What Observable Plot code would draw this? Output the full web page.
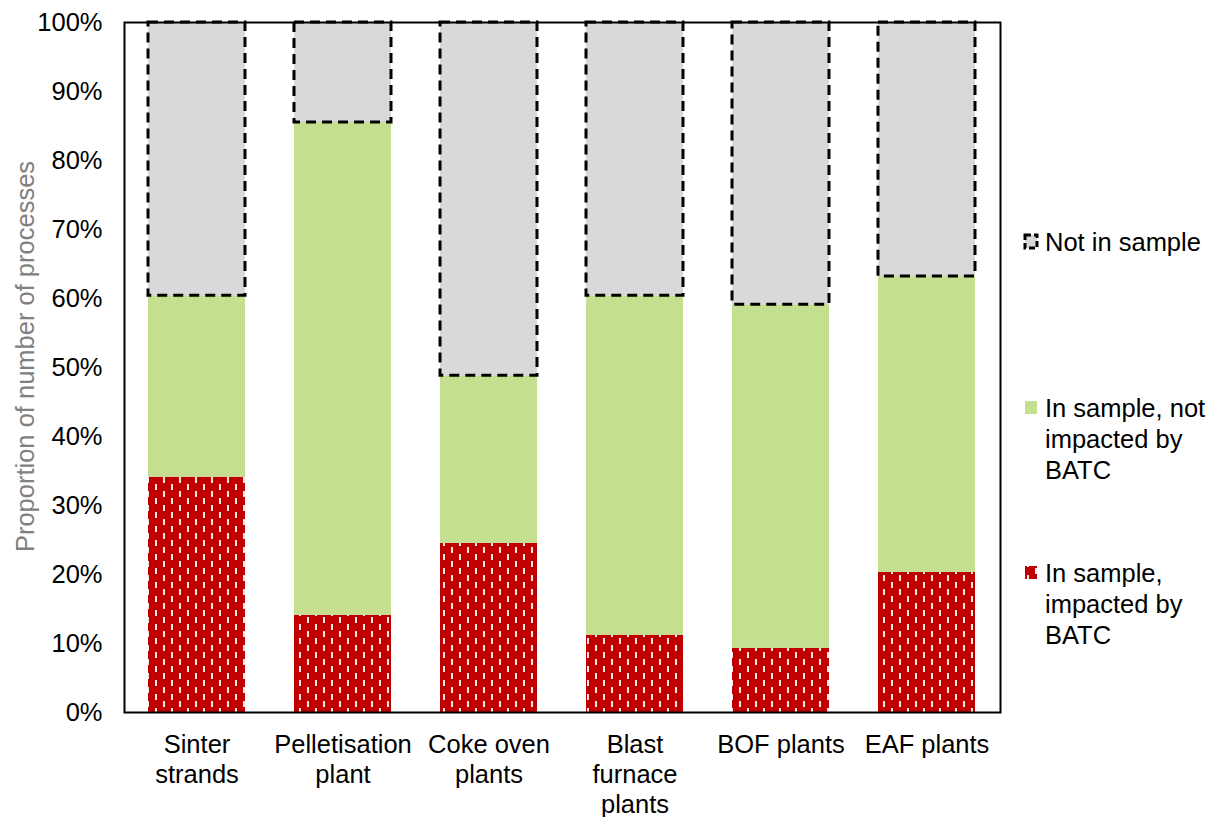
<!DOCTYPE html>
<html>
<head>
<meta charset="utf-8">
<script src="https://cdn.jsdelivr.net/npm/d3@7"></script>
<script src="https://cdn.jsdelivr.net/npm/@observablehq/plot@0.6"></script>
<style>
  body { margin: 0; background: #fff; font-family: "Liberation Sans", Arial, sans-serif; }
  #chart { position: relative; width: 1221px; height: 817px; }
</style>
</head>
<body>
<div id="chart"></div>
<script>
const categories = ["Sinter\nstrands", "Pelletisation\nplant", "Coke oven\nplants", "Blast\nfurnace\nplants", "BOF plants", "EAF plants"];
const impacted    = [34.1, 14.1, 24.5, 11.2, 9.3, 20.3];
const notImpacted = [26.3, 71.4, 24.3, 49.2, 49.8, 42.9];
const notInSample = [39.6, 14.5, 51.2, 39.6, 40.9, 36.8];
const seriesNames = ["In sample,\nimpacted by\nBATC", "In sample, not\nimpacted by\nBATC", "Not in sample"];
const yTicks = [0, 10, 20, 30, 40, 50, 60, 70, 80, 90, 100];

const rows = categories.map((c, i) => {
  const a = impacted[i], b = notImpacted[i], g = notInSample[i];
  return {cat: c, r1: 0, r2: a, g1: a, g2: a + b, n1: a + b, n2: a + b + g};
});

const FS = 25.5;
const chart = Plot.plot({
  width: 1221,
  height: 817,
  marginLeft: 124,
  marginRight: 221,
  marginTop: 22,
  marginBottom: 105,
  style: {fontFamily: "'Liberation Sans', Arial, sans-serif", fontSize: FS + "px", color: "#000", background: "#fff"},
  x: {domain: categories, paddingInner: 0.335, paddingOuter: 0.1675, label: null},
  y: {domain: [0, 100], label: null},
  marks: [
    Plot.barY(rows, {x: "cat", y1: "r1", y2: "r2", fill: "url(#redPat)", inset: 0}),
    Plot.barY(rows, {x: "cat", y1: "g1", y2: "g2", fill: "#C4DF8F", inset: 0}),
    Plot.barY(rows, {x: "cat", y1: "n1", y2: "n2", fill: "#D9D9D9", stroke: "#000", strokeWidth: 3, strokeDasharray: "10,6", inset: 0}),
    Plot.frame({stroke: "#000", strokeWidth: 2}),
    Plot.axisY({ticks: yTicks, tickSize: 0, tickPadding: 22, tickFormat: d => d + "%", fontSize: FS, label: null}),
    Plot.axisX({tickSize: 0, tickPadding: 19, fontSize: FS, lineHeight: 1.18, label: null}),
    Plot.text(["Proportion of number of processes"], {frameAnchor: "left", textAnchor: "middle", dx: -99, dy: -11, rotate: -90, fill: "#808080", fontSize: FS})
  ]
});

document.getElementById("chart").appendChild(chart);

const svg = d3.select(chart);
const defs = svg.insert("defs", ":first-child");
const pat = defs.append("pattern").attr("id", "redPat").attr("patternUnits", "userSpaceOnUse")
  .attr("width", 16).attr("height", 14);
pat.append("rect").attr("width", 16).attr("height", 14).attr("fill", "#C00000");
pat.append("rect").attr("x", 3).attr("y", 1).attr("width", 2).attr("height", 6).attr("fill", "#fff").attr("opacity", 0.9);
pat.append("rect").attr("x", 11).attr("y", 8).attr("width", 2).attr("height", 6).attr("fill", "#fff").attr("opacity", 0.9);

// legend
const legend = svg.append("g").attr("font-family", "'Liberation Sans', Arial, sans-serif")
  .attr("font-size", FS).attr("fill", "#000").attr("text-anchor", "start");
const items = [
  {name: seriesNames[2], y: 242, fill: "#D9D9D9", stroke: "#000"},
  {name: seriesNames[1], y: 408, fill: "#C4DF8F", stroke: "none"},
  {name: seriesNames[0], y: 573, fill: "url(#redPat)", stroke: "none"}
];
items.forEach(it => {
  legend.append("rect").attr("x", 1025).attr("y", it.y - 7).attr("width", 12).attr("height", 13)
    .attr("fill", it.fill).attr("stroke", it.stroke).attr("stroke-width", it.stroke === "none" ? 0 : 3)
    .attr("stroke-dasharray", it.stroke === "none" ? null : "6,3");
  const t = legend.append("text").attr("x", 1045).attr("y", it.y);
  it.name.split("\n").forEach((line, i) => {
    t.append("tspan").attr("x", 1045).attr("dy", i === 0 ? "0.35em" : "31").text(line);
  });
});
</script>
</body>
</html>
